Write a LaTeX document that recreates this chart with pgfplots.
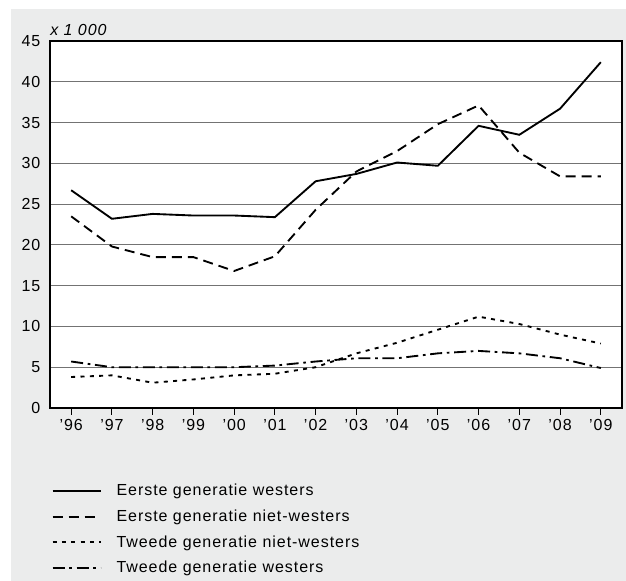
\documentclass[border=0pt]{standalone}
\usepackage{fontspec}
\setmainfont{Liberation Sans}[LetterSpace=6]
\usepackage{pgfplots}
\pgfplotsset{compat=1.18}
\definecolor{panel}{RGB}{235,236,236}
\definecolor{gridc}{RGB}{115,115,115}

\begin{document}
\begin{tikzpicture}
% page and grey panel (1 px = 0.75pt, origin at the lower left of the axis box)
\useasboundingbox (-37.5pt,-129.75pt) rectangle (432pt,306pt);
\fill[panel] (-29.25pt,-129.75pt) rectangle (432pt,299.25pt);
\begin{axis}[
    scale only axis,
    width=429pt, height=275.25pt,
    at={(0pt,0pt)}, anchor=south west,
    xmin=-0.52, xmax=13.52,
    ymin=0, ymax=45,
    xtick={0,...,13},
    xticklabels={’96,’97,’98,’99,’00,’01,’02,’03,’04,’05,’06,’07,’08,’09},
    ytick={0,5,...,45},
    xtick pos=left,
    axis background/.style={fill=white},
    ymajorgrids=true,
    grid style={gridc, line width=0.9pt},
    axis line style={black, line width=0.8pt},
    tick align=outside,
    major tick length=5.25pt,
    ytick style={draw=none},
    xtick style={black, line width=0.7pt},
    tick label style={font=\fontsize{12}{14}\selectfont},
    yticklabel style={xshift=1.5pt},
    /pgf/number format/assume math mode=true,
    legend cell align=left,
    legend style={
        at={(axis description cs:0,0)}, anchor=north west,
        xshift=1pt, yshift=-55pt,
        draw=none, fill=none, inner sep=0pt,
        font=\fontsize{12}{14}\selectfont,
        row sep=5pt,
    },
    legend image code/.code={\draw[#1] (0pt,0pt) -- (36pt,0pt); \path[draw=none] (0pt,0pt) -- (46pt,0pt);},
]
\addplot[black, line width=1.4pt] coordinates {
    (0,26.7) (1,23.2) (2,23.8) (3,23.6) (4,23.6) (5,23.4) (6,27.8)
    (7,28.7) (8,30.1) (9,29.7) (10,34.6) (11,33.5) (12,36.7) (13,42.4)
};
\addlegendentry{Eerste generatie westers}
\addplot[black, line width=1.4pt, dash pattern=on 7.5pt off 4.5pt] coordinates {
    (0,23.5) (1,19.8) (2,18.5) (3,18.5) (4,16.8) (5,18.6) (6,24.3)
    (7,29.0) (8,31.5) (9,34.8) (10,37.1) (11,31.3) (12,28.4) (13,28.4)
};
\addlegendentry{Eerste generatie niet-westers}
\addplot[black, line width=1.4pt, dash pattern=on 3pt off 4pt] coordinates {
    (0,3.8) (1,4.0) (2,3.1) (3,3.5) (4,4.0) (5,4.2) (6,5.0)
    (7,6.7) (8,8.0) (9,9.6) (10,11.2) (11,10.3) (12,9.0) (13,7.9)
};
\addlegendentry{Tweede generatie niet-westers}
\addplot[black, line width=1.4pt, dash pattern=on 9pt off 3.5pt on 2pt off 3.5pt] coordinates {
    (0,5.7) (1,5.0) (2,5.0) (3,5.0) (4,5.0) (5,5.2) (6,5.7)
    (7,6.1) (8,6.1) (9,6.7) (10,7.0) (11,6.7) (12,6.1) (13,4.9)
};
\addlegendentry{Tweede generatie westers}
\end{axis}
\node[anchor=south west, inner sep=0pt, font=\fontsize{12}{14}\selectfont\itshape]
    at (0pt,279pt) {x 1 000};
\end{tikzpicture}
\end{document}
